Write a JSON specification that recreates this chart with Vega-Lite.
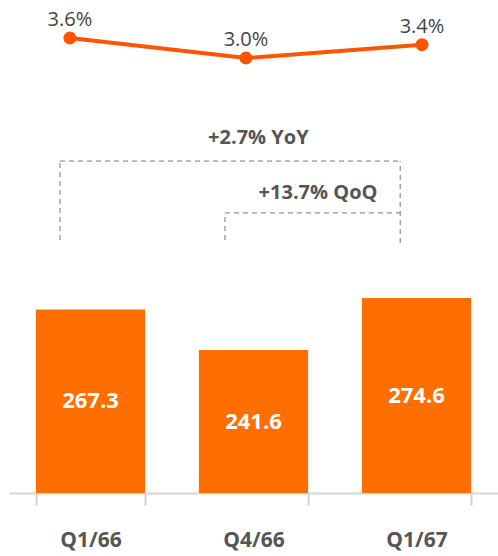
{
  "$schema": "https://vega.github.io/schema/vega-lite/v6.json",
  "width": 489,
  "height": 493,
  "padding": {"left": 9, "top": 0, "right": 0, "bottom": 6},
  "background": "white",
  "config": {"view": {"stroke": null}, "font": "Open Sans"},
  "datasets": {
    "main": [
      {"q": "Q1/66", "value": 267.3, "pct": 3.6, "pctLabel": "3.6%"},
      {"q": "Q4/66", "value": 241.6, "pct": 3.0, "pctLabel": "3.0%"},
      {"q": "Q1/67", "value": 274.6, "pct": 3.4, "pctLabel": "3.4%"}
    ],
    "brackets": [
      {"x": 0.313, "x2": 0.313, "y": 311.4, "y2": 361.5},
      {"x": 0.313, "x2": 2.4, "y": 361.5, "y2": 361.5},
      {"x": 2.4, "x2": 2.4, "y": 309.5, "y2": 361.5},
      {"x": 1.325, "x2": 1.325, "y": 311.4, "y2": 328.6},
      {"x": 1.325, "x2": 2.4, "y": 328.6, "y2": 328.6}
    ],
    "notes": [
      {"x": 1.53, "y": 376, "text": "+2.7% YoY"},
      {"x": 1.896, "y": 341.2, "text": "+13.7% QoQ"}
    ]
  },
  "layer": [
    {
      "data": {"name": "main"},
      "transform": [{"calculate": "(datum.value + 150.9) / 2", "as": "mid"}],
      "encoding": {
        "x": {
          "field": "q", "type": "nominal", "sort": null,
          "scale": {"paddingInner": 0.33, "paddingOuter": 0.165},
          "axis": {
            "title": null, "labelAngle": 0, "tickBand": "extent",
            "domainColor": "#d6d6d6", "domainWidth": 2, "tickColor": "#d0d0d0", "tickWidth": 2, "tickSize": 12,
            "labelFontSize": 21, "labelFontWeight": "bold", "labelColor": "#555555",
            "labelBaseline": "alphabetic", "labelPadding": 41, "labelFont": "Open Sans"
          }
        }
      },
      "layer": [
        {
          "mark": {"type": "bar", "color": "#FF6E00"},
          "encoding": {
            "y": {"field": "value", "type": "quantitative", "scale": {"domain": [150.9, 463.7], "zero": false, "nice": false}, "axis": null},
            "y2": {"datum": 150.9}
          }
        },
        {
          "mark": {"type": "text", "color": "white", "fontSize": 22, "fontWeight": "bold", "baseline": "middle", "font": "Open Sans"},
          "encoding": {
            "y": {"field": "mid", "type": "quantitative"},
            "text": {"field": "value", "type": "quantitative", "format": ".1f"}
          }
        }
      ]
    },
    {
      "data": {"name": "main"},
      "encoding": {
        "x": {"field": "q", "type": "ordinal", "sort": null, "scale": {"type": "point", "padding": 0.389, "align": 0.445}, "axis": null},
        "y": {"field": "pct", "type": "quantitative", "scale": {"domain": [-10.05, 4.74], "zero": false, "nice": false}, "axis": null}
      },
      "layer": [
        {"mark": {"type": "line", "color": "#FF5500", "strokeWidth": 4}},
        {"mark": {"type": "point", "filled": true, "color": "#FF5500", "size": 170, "opacity": 1}},
        {
          "mark": {"type": "text", "color": "#444444", "fontSize": 20, "dy": -18, "baseline": "middle", "font": "Open Sans"},
          "encoding": {"text": {"field": "pctLabel"}}
        }
      ]
    },
    {
      "data": {"name": "brackets"},
      "mark": {"type": "rule", "color": "#777777", "strokeWidth": 1, "strokeDash": [5, 4]},
      "encoding": {
        "x": {"field": "x", "type": "quantitative", "scale": {"domain": [0, 3], "nice": false, "zero": false}, "axis": null},
        "x2": {"field": "x2"},
        "y": {"field": "y", "type": "quantitative", "scale": {"domain": [150.9, 463.7], "zero": false, "nice": false}, "axis": null},
        "y2": {"field": "y2"}
      }
    },
    {
      "data": {"name": "notes"},
      "mark": {"type": "text", "color": "#555555", "fontSize": 20, "fontWeight": "bold", "baseline": "middle", "font": "Open Sans"},
      "encoding": {
        "x": {"field": "x", "type": "quantitative", "scale": {"domain": [0, 3], "nice": false, "zero": false}, "axis": null},
        "y": {"field": "y", "type": "quantitative", "scale": {"domain": [150.9, 463.7], "zero": false, "nice": false}, "axis": null},
        "text": {"field": "text"}
      }
    }
  ],
  "resolve": {"scale": {"x": "independent", "y": "independent"}}
}
